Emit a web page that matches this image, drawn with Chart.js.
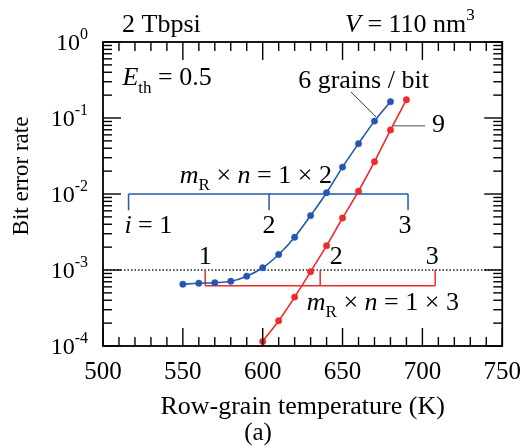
<!DOCTYPE html>
<html><head><meta charset="utf-8">
<script src="https://cdn.jsdelivr.net/npm/chart.js@4/dist/chart.umd.min.js"></script>
<style>html,body{margin:0;padding:0;background:#fff}</style>
</head><body>
<canvas id="c" width="532" height="448"></canvas>
<script>
// ---- data ----
const temps6 = [550, 560, 570, 580, 590, 600, 610, 620, 630, 640, 650, 660, 670, 680];
const ber6   = [6.5e-4, 6.7e-4, 6.8e-4, 7.1e-4, 8.3e-4, 1.07e-3, 1.6e-3, 2.7e-3, 5.2e-3, 1.04e-2, 2.26e-2, 4.6e-2, 9.1e-2, 1.64e-1];
const temps9 = [600, 610, 620, 630, 640, 650, 660, 670, 680, 690];
const ber9   = [1.15e-4, 2.15e-4, 4.4e-4, 9.5e-4, 2.09e-3, 4.83e-3, 1.09e-2, 2.66e-2, 6.95e-2, 1.74e-1];
const xTickValues = [500, 550, 600, 650, 700, 750];
const yDecades = [1e-4, 1e-3, 1e-2, 1e-1, 1];
const yExponents = ['-4', '-3', '-2', '-1', '0'];
const berTarget = 1e-3;
const bracket2Temps = [516, 604, 691];   // m_R x n = 1 x 2, i = 1,2,3
const bracket2Labels = ['1', '2', '3'];
const bracket3Temps = [564, 636, 708];   // m_R x n = 1 x 3, i = 1,2,3
const bracket3Labels = ['1', '2', '3'];

const BLUE = '#2457b0', RED = '#ee2b2b';
const SERIF = "'Liberation Serif','Times New Roman',serif";

function rich(ctx, parts, x, y, align) {
  let w = 0;
  for (const p of parts) {
    ctx.font = (p.i ? 'italic ' : '') + p.s + 'px ' + SERIF;
    p.w = ctx.measureText(p.t).width; w += p.w;
  }
  let cx = align === 'right' ? x - w : align === 'center' ? x - w / 2 : x;
  ctx.textAlign = 'left'; ctx.textBaseline = 'alphabetic';
  for (const p of parts) {
    ctx.font = (p.i ? 'italic ' : '') + p.s + 'px ' + SERIF;
    ctx.fillText(p.t, cx, y + (p.dy || 0));
    cx += p.w;
  }
}
function seg(ctx, x1, y1, x2, y2) { ctx.beginPath(); ctx.moveTo(x1, y1); ctx.lineTo(x2, y2); ctx.stroke(); }

const decor = {
  id: 'decor',
  beforeDatasetsDraw(chart) {
    const {ctx, chartArea: a, scales: {x, y}} = chart;
    ctx.save();
    // dotted BER target line
    ctx.strokeStyle = '#222'; ctx.lineWidth = 1.5; ctx.setLineDash([1.5, 2]);
    const yt = y.getPixelForValue(berTarget);
    seg(ctx, a.left, yt, a.right, yt);
    ctx.setLineDash([]);
    // blue bracket at 1e-2
    ctx.strokeStyle = BLUE; ctx.lineWidth = 1.5;
    const yb = y.getPixelForValue(1e-2), ybt = y.getPixelForValue(6.1e-3);
    seg(ctx, x.getPixelForValue(bracket2Temps[0]), yb, x.getPixelForValue(bracket2Temps[2]), yb);
    for (const t of bracket2Temps) seg(ctx, x.getPixelForValue(t), yb, x.getPixelForValue(t), ybt);
    // red bracket
    ctx.strokeStyle = RED;
    const yr = y.getPixelForValue(6.2e-4);
    seg(ctx, x.getPixelForValue(bracket3Temps[0]), yr, x.getPixelForValue(bracket3Temps[2]), yr);
    for (const t of bracket3Temps) seg(ctx, x.getPixelForValue(t), yr, x.getPixelForValue(t), yt);
    // leader lines
    ctx.strokeStyle = '#333'; ctx.lineWidth = 1;
    seg(ctx, x.getPixelForValue(655.3), y.getPixelForValue(0.22), x.getPixelForValue(671.1), y.getPixelForValue(0.103));
    ctx.strokeStyle = '#888'; ctx.lineWidth = 1.5;
    seg(ctx, x.getPixelForValue(681.5), y.getPixelForValue(0.079), x.getPixelForValue(701.7), y.getPixelForValue(0.079));
    ctx.restore();
  },
  afterDraw(chart) {
    const {ctx, chartArea: a, scales: {x, y}} = chart;
    ctx.save();
    ctx.strokeStyle = '#000'; ctx.fillStyle = '#000';
    // inward ticks
    ctx.lineWidth = 1.4;
    for (let t = 500; t <= 750; t += 10) {
      const px = x.getPixelForValue(t);
      const L = (t % 50 === 0) ? 18 : 9;
      seg(ctx, px, a.bottom, px, a.bottom - L);
      seg(ctx, px, a.top, px, a.top + L);
    }
    for (let d = 0; d < yDecades.length; d++) {
      const dec = yDecades[d];
      const py = y.getPixelForValue(dec);
      seg(ctx, a.left, py, a.left + 18, py); seg(ctx, a.right, py, a.right - 18, py);
      if (d < yDecades.length - 1) {
        for (let m = 2; m <= 9; m++) {
          const pm = y.getPixelForValue(dec * m);
          seg(ctx, a.left, pm, a.left + 9, pm); seg(ctx, a.right, pm, a.right - 9, pm);
        }
      }
    }
    // frame
    ctx.lineWidth = 1.8;
    ctx.strokeRect(a.left, a.top, a.right - a.left, a.bottom - a.top);
    // y tick labels
    for (let d = 0; d < yDecades.length; d++) {
      const py = y.getPixelForValue(yDecades[d]);
      rich(ctx, [{t: '10', s: 24}, {t: yExponents[d], s: 16, dy: -11}], 88, py + 8, 'right');
    }
    // y title
    ctx.save();
    ctx.translate(28, 176); ctx.rotate(-Math.PI / 2);
    ctx.font = '23px ' + SERIF; ctx.textAlign = 'center'; ctx.textBaseline = 'alphabetic';
    ctx.fillText('Bit error rate', 0, 0);
    ctx.restore();
    // panel label
    rich(ctx, [{t: '(a)', s: 25}], 258, 440, 'center');
    // header texts
    rich(ctx, [{t: '2 Tbpsi', s: 26}], 122, 32, 'left');
    rich(ctx, [{t: 'V', s: 26, i: true}, {t: ' = 110 nm', s: 26}, {t: '3', s: 17, dy: -12}], 345, 32, 'left');
    // in-plot texts (anchored in data coordinates)
    const X = v => x.getPixelForValue(v), Y = v => y.getPixelForValue(Math.pow(10, v));
    rich(ctx, [{t: 'E', s: 26, i: true}, {t: 'th', s: 17, dy: 8}, {t: ' = 0.5', s: 26}], X(512.2), Y(-0.566), 'left');
    rich(ctx, [{t: '6 grains / bit', s: 26}], X(622.2), Y(-0.605), 'left');
    rich(ctx, [{t: '9', s: 26}], X(706), Y(-1.184), 'left');
    const mLabel = last => [{t: 'm', s: 26, i: true}, {t: 'R', s: 17, dy: 7}, {t: ' × ', s: 26}, {t: 'n', s: 26, i: true}, {t: ' = 1 × ' + last, s: 26}];
    rich(ctx, mLabel('2'), X(548.1), Y(-1.851), 'left');
    rich(ctx, mLabel('3'), X(627.6), Y(-3.526), 'left');
    rich(ctx, [{t: 'i', s: 26, i: true}, {t: ' = ' + bracket2Labels[0], s: 26}], X(513.4), Y(-2.513), 'left');
    rich(ctx, [{t: bracket2Labels[1], s: 26}], X(bracket2Temps[1]), Y(-2.513), 'center');
    rich(ctx, [{t: bracket2Labels[2], s: 26}], X(bracket2Temps[2]) - 3, Y(-2.513), 'center');
    rich(ctx, [{t: bracket3Labels[0], s: 26}], X(bracket3Temps[0]), Y(-2.921), 'center');
    rich(ctx, [{t: bracket3Labels[1], s: 26}], X(bracket3Temps[1]) + 16, Y(-2.921), 'center');
    rich(ctx, [{t: bracket3Labels[2], s: 26}], X(bracket3Temps[2]) - 3, Y(-2.921), 'center');
    ctx.restore();
  }
};

const mk = (xs, ys) => xs.map((t, i) => ({x: t, y: ys[i]}));
new Chart(document.getElementById('c'), {
  type: 'scatter',
  data: {
    datasets: [
      {label: '6 grains / bit', data: mk(temps6, ber6), showLine: true, borderColor: BLUE, backgroundColor: BLUE,
       pointBackgroundColor: BLUE, pointBorderColor: BLUE, pointRadius: 3.2, pointBorderWidth: 0.5, borderWidth: 1.6, cubicInterpolationMode: 'monotone'},
      {label: '9 grains / bit', data: mk(temps9, ber9), showLine: true, borderColor: RED, backgroundColor: RED,
       pointBackgroundColor: RED, pointBorderColor: RED, pointRadius: 3.2, pointBorderWidth: 0.5, borderWidth: 1.6, cubicInterpolationMode: 'monotone'}
    ]
  },
  options: {
    responsive: false, animation: false, devicePixelRatio: 1,
    layout: {padding: {left: 0, top: 42, right: 20, bottom: 0}},
    plugins: {legend: {display: false}, tooltip: {enabled: false}},
    scales: {
      x: {
        type: 'linear', min: 500, max: 750,
        afterBuildTicks: s => { s.ticks = xTickValues.map(v => ({value: v})); },
        ticks: {color: '#000', font: {family: SERIF, size: 25}, padding: 11, maxRotation: 0, autoSkip: false},
        grid: {display: false, drawTicks: false}, border: {display: false},
        title: {display: true, text: 'Row-grain temperature (K)', color: '#000', font: {family: SERIF, size: 26}, padding: {top: 0, bottom: 25}},
        afterFit: s => { s.height = 102; }
      },
      y: {
        type: 'logarithmic', min: 1e-4, max: 1,
        ticks: {display: false}, grid: {display: false, drawTicks: false}, border: {display: false},
        afterFit: s => { s.width = 103; }
      }
    }
  },
  plugins: [decor]
});
</script>
</body></html>
